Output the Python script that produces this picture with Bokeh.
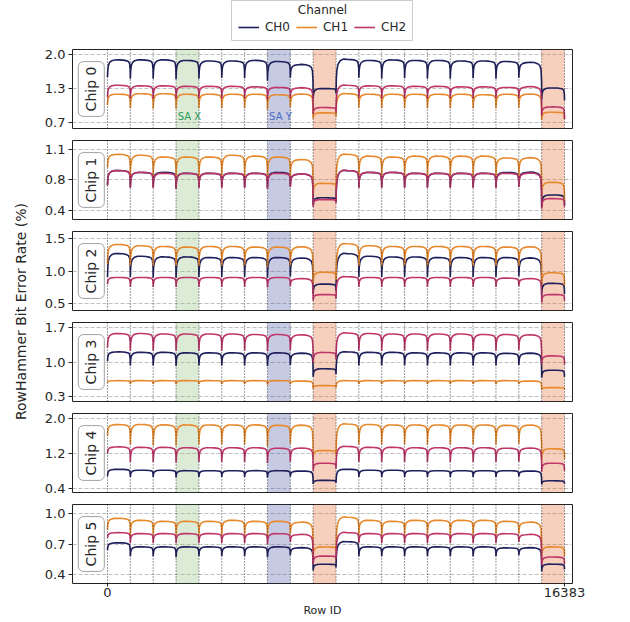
import math

from bokeh.plotting import figure
from bokeh.layouts import column, row
from bokeh.models import (Span, BoxAnnotation, Label, Legend, LegendItem,
                          FixedTicker, Spacer, Range1d)
from bokeh.embed import file_html
from bokeh.resources import INLINE

# ---------------------------------------------------------------- data
ROW_MAX = 16383
# subarray boundaries (row IDs)
BOUNDS = [0, 819, 1638, 2458, 3277, 4096, 4915, 5734, 6554, 7373, 8192,
          9011, 9830, 10650, 11469, 12288, 13107, 13926, 14746, 15565, 16383]
SA_X = 3          # subarray index marked "SA X"
SA_Y = 7          # subarray index marked "SA Y"
EDGE_SUBARRAYS = [9, 19]

CHANNELS = ["CH0", "CH1", "CH2"]
CHIPS = ["Chip 0", "Chip 1", "Chip 2", "Chip 3", "Chip 4", "Chip 5"]

Y_TICKS = [[0.68, 1.33, 1.98], [0.42, 0.76, 1.10], [0.50, 1.00, 1.50],
           [0.30, 1.00, 1.70], [0.40, 1.20, 2.00], [0.40, 0.70, 1.00]]
Y_TICK_LABELS = [["0.7", "1.3", "2.0"], ["0.4", "0.8", "1.1"], ["0.5", "1.0", "1.5"],
                 ["0.3", "1.0", "1.7"], ["0.4", "1.2", "2.0"], ["0.4", "0.7", "1.0"]]
Y_LIMITS = [(0.574, 2.075), (0.319, 1.199), (0.399, 1.604),
            (0.199, 1.801), (0.304, 2.110), (0.311, 1.089)]
X_TICKS = [0, 16383]

# mean bit error rate (%) on the flat part of each subarray, per chip
CH0_LEVEL = [
    [1.87, 1.87, 1.87, 1.86, 1.85, 1.85, 1.86, 1.84, 1.78, 1.33, 1.88, 1.86, 1.87, 1.86, 1.86, 1.85, 1.85, 1.84, 1.82, 1.34],
    [0.86, 0.84, 0.84, 0.83, 0.83, 0.83, 0.83, 0.84, 0.82, 0.56, 0.86, 0.84, 0.84, 0.83, 0.83, 0.83, 0.83, 0.84, 0.84, 0.59],
    [1.26, 1.22, 1.21, 1.21, 1.20, 1.20, 1.20, 1.20, 1.19, 0.80, 1.26, 1.22, 1.21, 1.21, 1.20, 1.20, 1.20, 1.20, 1.19, 0.81],
    [1.20, 1.19, 1.19, 1.18, 1.18, 1.18, 1.18, 1.18, 1.17, 0.86, 1.20, 1.19, 1.19, 1.18, 1.18, 1.18, 1.18, 1.17, 1.17, 0.83],
    [0.83, 0.81, 0.81, 0.80, 0.80, 0.80, 0.80, 0.80, 0.79, 0.58, 0.83, 0.81, 0.81, 0.80, 0.80, 0.80, 0.80, 0.80, 0.79, 0.57],
    [0.71, 0.67, 0.67, 0.67, 0.67, 0.67, 0.67, 0.67, 0.66, 0.50, 0.72, 0.67, 0.67, 0.67, 0.67, 0.67, 0.67, 0.66, 0.66, 0.50],
]
CH1_LEVEL = [
    [1.22, 1.23, 1.23, 1.22, 1.22, 1.22, 1.22, 1.21, 1.22, 0.87, 1.23, 1.22, 1.22, 1.22, 1.22, 1.22, 1.21, 1.22, 1.22, 0.88],
    [1.04, 1.03, 1.01, 1.01, 1.01, 1.03, 1.02, 1.01, 0.98, 0.72, 1.04, 1.02, 1.01, 1.02, 1.02, 1.02, 1.02, 1.00, 1.00, 0.73],
    [1.40, 1.38, 1.37, 1.36, 1.37, 1.37, 1.36, 1.36, 1.36, 0.98, 1.41, 1.38, 1.37, 1.37, 1.37, 1.37, 1.37, 1.36, 1.36, 0.97],
    [0.62, 0.62, 0.62, 0.62, 0.62, 0.62, 0.62, 0.62, 0.61, 0.52, 0.62, 0.62, 0.62, 0.62, 0.62, 0.62, 0.62, 0.62, 0.61, 0.48],
    [1.85, 1.85, 1.84, 1.84, 1.84, 1.84, 1.84, 1.83, 1.83, 1.26, 1.86, 1.85, 1.84, 1.84, 1.84, 1.84, 1.84, 1.83, 1.83, 1.30],
    [0.95, 0.93, 0.92, 0.92, 0.92, 0.93, 0.92, 0.92, 0.91, 0.67, 0.96, 0.93, 0.92, 0.93, 0.93, 0.93, 0.93, 0.92, 0.91, 0.67],
]
CH2_LEVEL = [
    [1.39, 1.38, 1.38, 1.37, 1.37, 1.37, 1.36, 1.35, 1.34, 0.97, 1.39, 1.38, 1.38, 1.37, 1.37, 1.36, 1.36, 1.35, 1.36, 0.98],
    [0.86, 0.84, 0.83, 0.83, 0.83, 0.83, 0.83, 0.83, 0.82, 0.54, 0.86, 0.84, 0.84, 0.83, 0.83, 0.83, 0.83, 0.83, 0.83, 0.55],
    [0.90, 0.90, 0.90, 0.90, 0.90, 0.90, 0.90, 0.90, 0.88, 0.64, 0.91, 0.90, 0.90, 0.90, 0.90, 0.90, 0.90, 0.89, 0.88, 0.64],
    [1.57, 1.57, 1.56, 1.56, 1.56, 1.56, 1.55, 1.55, 1.54, 1.19, 1.58, 1.57, 1.56, 1.56, 1.56, 1.56, 1.55, 1.55, 1.54, 1.12],
    [1.34, 1.33, 1.33, 1.32, 1.32, 1.32, 1.32, 1.31, 1.31, 0.97, 1.35, 1.33, 1.33, 1.32, 1.32, 1.32, 1.32, 1.31, 1.31, 0.97],
    [0.81, 0.80, 0.80, 0.80, 0.80, 0.80, 0.80, 0.80, 0.79, 0.58, 0.81, 0.80, 0.80, 0.80, 0.80, 0.80, 0.80, 0.80, 0.79, 0.57],
]

# bit error rate (%) at each subarray boundary (the dips), per chip
CH0_EDGE = [
    [1.55, 1.52, 1.52, 1.51, 1.52, 1.54, 1.53, 1.48, 1.54, 1.14, 1.24, 1.54, 1.52, 1.53, 1.52, 1.52, 1.53, 1.52, 1.54, 1.12, 1.11],
    [0.70, 0.68, 0.68, 0.67, 0.68, 0.68, 0.68, 0.67, 0.69, 0.48, 0.52, 0.68, 0.68, 0.68, 0.68, 0.68, 0.68, 0.68, 0.69, 0.46, 0.48],
    [0.91, 0.91, 0.90, 0.90, 0.91, 0.91, 0.91, 0.90, 0.92, 0.65, 0.70, 0.91, 0.91, 0.91, 0.91, 0.91, 0.91, 0.91, 0.92, 0.64, 0.65],
    [1.02, 0.93, 0.93, 0.92, 0.93, 0.93, 0.93, 0.92, 0.94, 0.70, 0.75, 0.93, 0.93, 0.93, 0.93, 0.93, 0.93, 0.93, 0.94, 0.68, 0.70],
    [0.68, 0.66, 0.66, 0.65, 0.66, 0.66, 0.66, 0.65, 0.67, 0.50, 0.53, 0.66, 0.66, 0.66, 0.66, 0.66, 0.66, 0.66, 0.67, 0.49, 0.50],
    [0.64, 0.58, 0.58, 0.57, 0.58, 0.58, 0.58, 0.57, 0.59, 0.44, 0.47, 0.58, 0.58, 0.58, 0.58, 0.58, 0.58, 0.58, 0.59, 0.43, 0.45],
]
CH1_EDGE = [
    [1.02, 0.96, 0.95, 0.95, 0.96, 0.96, 0.96, 0.93, 0.98, 0.76, 0.80, 0.97, 0.96, 0.96, 0.96, 0.96, 0.96, 0.96, 0.97, 0.74, 0.75],
    [0.90, 0.80, 0.80, 0.80, 0.80, 0.80, 0.80, 0.79, 0.80, 0.60, 0.66, 0.80, 0.80, 0.80, 0.80, 0.80, 0.80, 0.80, 0.80, 0.58, 0.52],
    [1.11, 1.08, 1.08, 1.08, 1.08, 1.08, 1.08, 1.06, 1.08, 0.80, 0.86, 1.08, 1.08, 1.08, 1.08, 1.08, 1.08, 1.08, 1.08, 0.78, 0.78],
    [0.58, 0.55, 0.55, 0.55, 0.55, 0.55, 0.55, 0.54, 0.55, 0.46, 0.48, 0.55, 0.55, 0.55, 0.55, 0.55, 0.55, 0.55, 0.55, 0.44, 0.44],
    [1.60, 1.40, 1.38, 1.38, 1.40, 1.40, 1.40, 1.36, 1.42, 1.10, 1.15, 1.40, 1.40, 1.40, 1.40, 1.40, 1.40, 1.40, 1.42, 1.05, 1.08],
    [0.84, 0.79, 0.79, 0.79, 0.79, 0.79, 0.79, 0.78, 0.80, 0.57, 0.62, 0.79, 0.79, 0.79, 0.79, 0.79, 0.79, 0.79, 0.80, 0.57, 0.58],
]
CH2_EDGE = [
    [1.17, 1.15, 1.14, 1.14, 1.15, 1.15, 1.15, 1.12, 1.16, 0.85, 0.88, 1.16, 1.15, 1.15, 1.15, 1.15, 1.15, 1.15, 1.16, 0.82, 0.76],
    [0.70, 0.67, 0.67, 0.66, 0.67, 0.67, 0.67, 0.66, 0.68, 0.46, 0.50, 0.67, 0.67, 0.67, 0.67, 0.67, 0.67, 0.67, 0.68, 0.44, 0.46],
    [0.80, 0.76, 0.76, 0.76, 0.76, 0.76, 0.76, 0.75, 0.77, 0.55, 0.58, 0.76, 0.76, 0.76, 0.76, 0.76, 0.76, 0.76, 0.77, 0.52, 0.55],
    [1.29, 1.23, 1.23, 1.23, 1.23, 1.23, 1.23, 1.22, 1.24, 0.98, 1.05, 1.23, 1.23, 1.23, 1.23, 1.23, 1.23, 1.23, 1.24, 0.95, 0.95],
    [1.20, 1.00, 1.00, 0.99, 1.00, 1.00, 1.00, 0.98, 1.01, 0.80, 0.85, 1.00, 1.00, 1.00, 1.00, 1.00, 1.00, 1.00, 1.01, 0.78, 0.80],
    [0.76, 0.71, 0.71, 0.71, 0.71, 0.71, 0.71, 0.70, 0.72, 0.50, 0.55, 0.71, 0.71, 0.71, 0.71, 0.71, 0.71, 0.71, 0.72, 0.49, 0.50],
]

# measured row profile inside a subarray: relative position in the subarray,
# and how far the rate has climbed from the boundary dip to the flat level
PROFILE_POS = [0.0, 0.015, 0.04, 0.09, 0.18, 0.32, 0.50, 0.68, 0.82, 0.92, 0.97, 0.995]
PROFILE_LIFT = [0.0, 0.45, 0.70, 0.87, 0.97, 1.02, 1.02, 1.01, 0.98, 0.93, 0.82, 0.50]

LEVELS = [CH0_LEVEL, CH1_LEVEL, CH2_LEVEL]
EDGES = [CH0_EDGE, CH1_EDGE, CH2_EDGE]

# ---------------------------------------------------------------- style
COLORS = ["#1e1f5c", "#e8892d", "#c0366b"]
FONT = "DejaVu Sans"
TEXT = "#262626"


def row_series(levels, edges):
    xs, ys = [], []
    for i in range(len(BOUNDS) - 1):
        a, b = BOUNDS[i], BOUNDS[i + 1]
        for pos, lift in zip(PROFILE_POS, PROFILE_LIFT):
            e = edges[i] if pos < 0.5 else edges[i + 1]
            xs.append(a + pos * (b - a))
            ys.append(e + lift * (levels[i] - e))
    xs.append(BOUNDS[-1])
    ys.append(edges[-1])
    return xs, ys


x_range = Range1d(-1254, 16670)
panels = []
for c, chip in enumerate(CHIPS):
    last = c == len(CHIPS) - 1
    lo, hi = Y_LIMITS[c]
    p = figure(frame_width=500, frame_height=79, x_range=x_range,
               y_range=Range1d(lo, hi), output_backend="svg",
               toolbar_location=None, min_border_left=36, min_border_right=58,
               min_border_top=6, min_border_bottom=38 if last else 6)
    p.background_fill_color = "white"
    p.outline_line_color = "#222222"
    p.outline_line_width = 1

    # shaded subarrays
    shades = [(SA_X, "#8abc73"), (SA_Y, "#4152a2")] + [(s, "#e45f26") for s in EDGE_SUBARRAYS]
    for s, col in shades:
        p.add_layout(BoxAnnotation(left=BOUNDS[s], right=BOUNDS[s + 1],
                                   fill_color=col, fill_alpha=0.3,
                                   line_color=None, level="underlay"))

    # y axis
    ticker = FixedTicker(ticks=Y_TICKS[c])
    p.yaxis.ticker = ticker
    p.yaxis.major_label_overrides = dict(zip(Y_TICKS[c], Y_TICK_LABELS[c]))
    p.yaxis.minor_tick_line_color = None
    p.yaxis.major_tick_out = 4
    p.yaxis.major_tick_in = 0
    p.yaxis.axis_line_color = None
    p.yaxis.major_tick_line_color = "#222222"
    p.yaxis.major_label_text_font = FONT
    p.yaxis.major_label_text_font_size = "13px"
    p.yaxis.major_label_text_color = TEXT
    p.yaxis.major_label_standoff = 3
    p.ygrid.ticker = ticker
    p.ygrid.grid_line_color = "#b0b0b0"
    p.ygrid.grid_line_dash = "4 2"
    p.ygrid.grid_line_width = 0.8
    p.xgrid.visible = False

    if last:
        p.xaxis.ticker = FixedTicker(ticks=X_TICKS)
        p.xaxis.minor_tick_line_color = None
        p.xaxis.major_tick_out = 3
        p.xaxis.major_tick_in = 0
        p.xaxis.axis_line_color = None
        p.xaxis.major_tick_line_color = "#222222"
        p.xaxis.major_label_text_font = FONT
        p.xaxis.major_label_text_font_size = "13px"
        p.xaxis.major_label_text_color = TEXT
        p.xaxis.major_label_standoff = 1
        p.xaxis.axis_label = "Row ID"
        p.xaxis.axis_label_text_font = FONT
        p.xaxis.axis_label_text_font_size = "11px"
        p.xaxis.axis_label_text_font_style = "normal"
        p.xaxis.axis_label_text_color = TEXT
        p.xaxis.axis_label_standoff = 4
    else:
        p.xaxis.visible = False

    # subarray boundaries
    for b in BOUNDS:
        p.add_layout(Span(location=b, dimension="height", line_color="#222222",
                          line_dash="1 2", line_width=0.9))

    for ch in range(len(CHANNELS)):
        xs, ys = row_series(LEVELS[ch][c], EDGES[ch][c])
        p.line(xs, ys, line_color=COLORS[ch], line_width=1.6)

    p.add_layout(Label(x=-580, y=(lo + hi) / 2, text=chip, angle=math.pi / 2,
                       text_align="center", text_baseline="middle",
                       text_font=FONT, text_font_size="14px", text_color=TEXT,
                       background_fill_color="white", background_fill_alpha=0.85,
                       border_line_color="#a0a0a0", border_line_width=1,
                       border_radius=5, padding=5))
    if c == 0:
        p.add_layout(Label(x=BOUNDS[SA_X] + 60, y=0.80, text="SA X",
                           text_baseline="middle", text_font=FONT,
                           text_font_size="10px", text_color="#2e9a5a"))
        p.add_layout(Label(x=BOUNDS[SA_Y] + 60, y=0.80, text="SA Y",
                           text_baseline="middle", text_font=FONT,
                           text_font_size="10px", text_color="#4a6bc0"))
    panels.append(p)

# legend box (sample lines lie outside the visible range; only the key shows)
leg = figure(width=182, height=41, x_range=Range1d(0, 1), y_range=Range1d(0, 1),
             output_backend="svg", toolbar_location=None, min_border=0)
leg.axis.visible = False
leg.grid.visible = False
leg.outline_line_color = "#cccccc"
leg_items = []
for ch, name in enumerate(CHANNELS):
    r = leg.line([5, 6], [5, 6], line_color=COLORS[ch], line_width=1.6)
    leg_items.append(LegendItem(label=name, renderers=[r]))
legend = Legend(items=leg_items, orientation="horizontal", location="bottom_center",
                border_line_color=None, background_fill_alpha=0, margin=4,
                padding=0, spacing=6, glyph_width=21, glyph_height=20,
                label_standoff=6, label_text_font=FONT, label_text_font_size="12px",
                label_text_color=TEXT)
leg.add_layout(legend)
leg.add_layout(Label(x=0.5, y=0.76, text="Channel", text_align="center",
                     text_baseline="middle", text_font=FONT,
                     text_font_size="12px", text_color=TEXT))

# shared y-axis title
ylab_h = 5 * 91 + 123
ylab = figure(width=36, height=ylab_h, x_range=Range1d(0, 36),
              y_range=Range1d(0, ylab_h), output_backend="svg",
              toolbar_location=None, min_border=0)
ylab.axis.visible = False
ylab.grid.visible = False
ylab.outline_line_color = None
ylab.add_layout(Label(x=20, y=ylab_h - 268, text="RowHammer Bit Error Rate (%)",
                      angle=math.pi / 2, text_align="center", text_baseline="middle",
                      text_font=FONT, text_font_size="14px", text_color=TEXT))

layout = column(row(Spacer(width=231, height=41), leg),
                Spacer(height=2),
                row(ylab, column(*panels)))

open("out.html", "w").write(file_html(layout, INLINE))
